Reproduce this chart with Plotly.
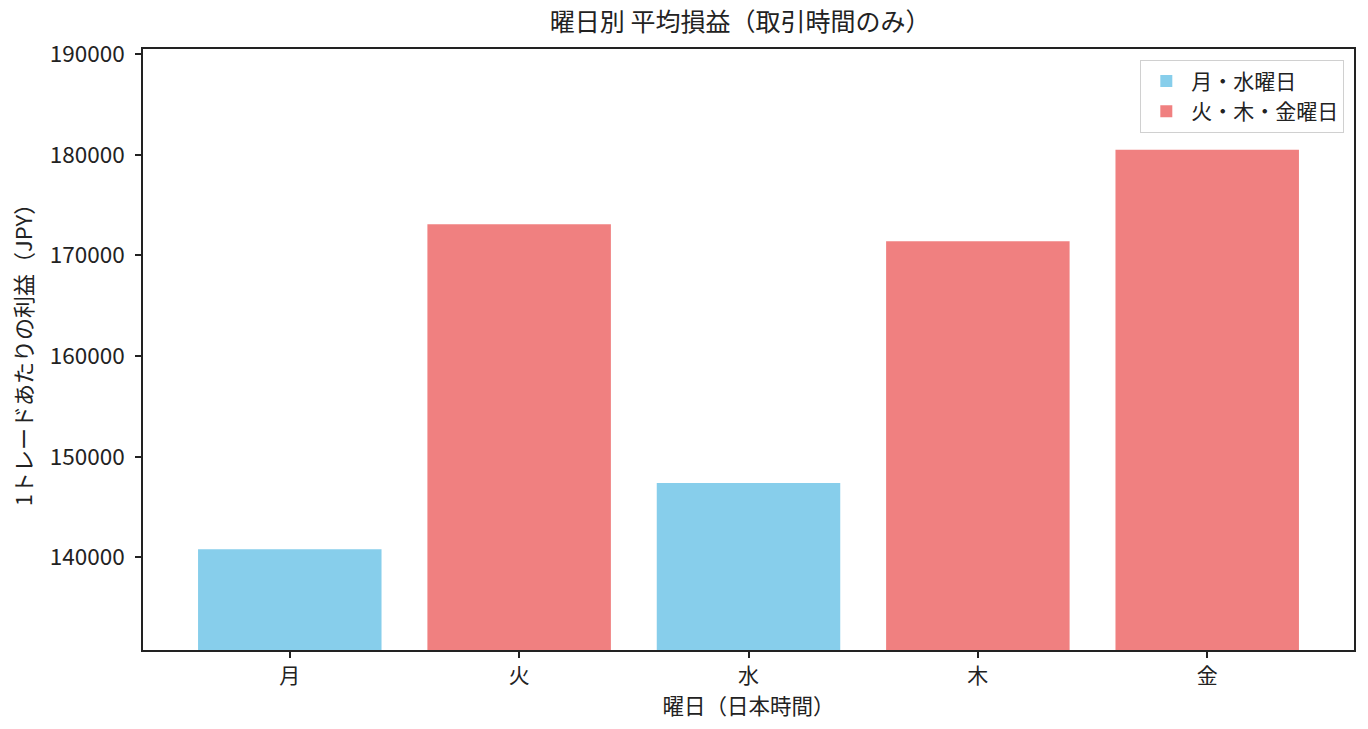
import plotly.graph_objects as go

days = ["月", "火", "水", "木", "金"]
profits = [140800, 173100, 147400, 171400, 180500]
groups = ["月・水曜日", "火・木・金曜日", "月・水曜日", "火・木・金曜日", "火・木・金曜日"]
group_colors = {"月・水曜日": "#87CEEB", "火・木・金曜日": "#F08080"}
y_ticks = [140000, 150000, 160000, 170000, 180000, 190000]

title_text = "曜日別 平均損益（取引時間のみ）"
x_title = "曜日（日本時間）"
y_title = "1トレードあたりの利益（JPY）"

FONT = "Noto Sans CJK JP"
TXT = "#222222"

fig = go.Figure()
for g in ["月・水曜日", "火・木・金曜日"]:
    xs = [d for d, gg in zip(days, groups) if gg == g]
    ys = [p for p, gg in zip(profits, groups) if gg == g]
    fig.add_trace(go.Bar(x=xs, y=ys, name=g, marker_color=group_colors[g],
                         marker_line_width=0, width=0.8))

ymin = min(profits) - 10000
ymax = max(profits) + 10000

fig.update_layout(
    width=1368, height=729,
    margin=dict(l=143, r=14, t=49, b=79),
    paper_bgcolor="white", plot_bgcolor="white",
    font=dict(family=FONT, size=21, color=TXT),
    title=dict(text=title_text, x=0.541, xanchor="center", y=0.969, yanchor="middle",
               font=dict(size=25, family=FONT, color=TXT)),
    barmode="overlay",
    showlegend=True,
    legend=dict(x=0.992, xanchor="right", y=0.982, yanchor="top",
                bordercolor="#d0d0d0", borderwidth=1, bgcolor="rgba(255,255,255,0.8)",
                font=dict(size=21, family=FONT, color=TXT),
                tracegroupgap=2, itemwidth=40),
)
fig.update_xaxes(
    categoryorder="array", categoryarray=days,
    range=[-0.64, 4.64],
    showline=True, linecolor=TXT, linewidth=1.5, mirror=True,
    ticks="outside", ticklen=6, tickcolor=TXT, tickwidth=1.5,
    showgrid=False, zeroline=False,
    tickfont=dict(size=21, family=FONT, color=TXT),
    title=dict(text=x_title, standoff=6, font=dict(size=21.5, family=FONT, color=TXT)),
)
fig.update_yaxes(
    range=[ymin, ymax],
    tickvals=y_ticks, ticktext=[str(v) for v in y_ticks],
    showline=True, linecolor=TXT, linewidth=1.5, mirror=True,
    ticks="outside", ticklen=6, tickcolor=TXT, tickwidth=1.5,
    ticklabelstandoff=6,
    showgrid=False, zeroline=False,
    tickfont=dict(size=22.5, family=FONT, color=TXT),
    title=dict(text=y_title, standoff=11, font=dict(size=22, family=FONT, color=TXT)),
)

fig.write_html("out.html",
               config={"displayModeBar": False},
               post_script="document.body.style.margin='0px';document.body.style.overflow='hidden';")
